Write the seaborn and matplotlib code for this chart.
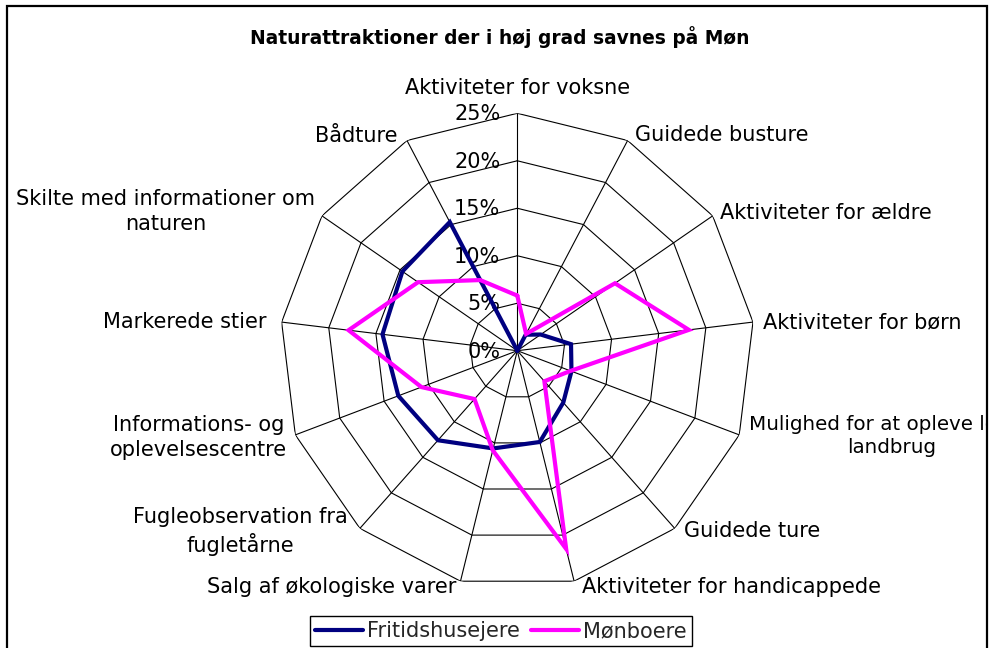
import numpy as np
import pandas as pd
import matplotlib
matplotlib.use("Agg")
import matplotlib.pyplot as plt
from matplotlib.lines import Line2D
from matplotlib.patches import Rectangle
import seaborn as sns

# ---- data -------------------------------------------------------------
categories = [
    "Aktiviteter for voksne",
    "Guidede busture",
    "Aktiviteter for ældre",
    "Aktiviteter for børn",
    "Mulighed for at opleve lokalt\nlandbrug",
    "Guidede ture",
    "Aktiviteter for handicappede",
    "Salg af økologiske varer",
    "Fugleobservation fra\nfugletårne",
    "Informations- og\noplevelsescentre",
    "Markerede stier",
    "Skilte med informationer om\nnaturen",
    "Bådture",
]
fritidshusejere = [0.0, 1.9, 3.0, 5.7, 6.1, 7.3, 9.9, 10.6, 12.6, 13.4, 14.3, 14.7, 15.3]
monboere = [5.8, 2.0, 12.5, 18.2, 6.0, 4.3, 21.5, 10.8, 6.8, 10.8, 17.9, 12.7, 8.4]
series_names = ["Fritidshusejere", "Mønboere"]
series_colors = ["#000080", "#FF00FF"]
r_ticks = [0, 5, 10, 15, 20, 25]
r_tick_labels = ["0%", "5%", "10%", "15%", "20%", "25%"]
title = "Naturattraktioner der i høj grad savnes på Møn"

# ---- style ------------------------------------------------------------
sns.set_theme(style="white")
plt.rcParams["font.family"] = ["DejaVu Sans"]
FS = 15
LW = 3.0

n = len(categories)
angles = np.arange(n) * 2 * np.pi / n
closed_angles = np.append(angles, 2 * np.pi)

rows = []
for name, vals in zip(series_names, [fritidshusejere, monboere]):
    for a, v in zip(closed_angles, list(vals) + [vals[0]]):
        rows.append({"angle": a, "value": v, "serie": name})
df = pd.DataFrame(rows)

W, H = 998, 648
fig = plt.figure(figsize=(W / 100, H / 100), dpi=100)
fig.patch.set_facecolor("white")

# polar axes: centre (517, 351) px, outer radius 237 px
cx, cy, R = 517.3, 350.7, 237.4
ax = fig.add_axes([(cx - R) / W, (H - cy - R) / H, 2 * R / W, 2 * R / H],
                  projection="polar")
ax.set_theta_zero_location("N")
ax.set_theta_direction(-1)
ax.set_ylim(0, r_ticks[-1])
ax.grid(False)
ax.spines["polar"].set_visible(False)
ax.set_xticks([])
ax.set_yticks([])
ax.patch.set_alpha(0)

# polygon rings and spokes
for t in r_ticks[1:]:
    ax.plot(closed_angles, [t] * (n + 1), color="black", lw=0.8, zorder=1)
for a in angles:
    ax.plot([a, a], [0, r_ticks[-1]], color="black", lw=0.8, zorder=1)

# series
sns.lineplot(data=df, x="angle", y="value", hue="serie",
             palette=series_colors, hue_order=series_names,
             linewidth=LW, estimator=None, sort=False, ax=ax,
             legend=False, zorder=3)
for line in ax.get_lines()[-2:]:
    line.set_solid_joinstyle("miter")
ax.set_xlabel("")
ax.set_ylabel("")

# radial tick labels along the top spoke
for t, lab in zip(r_ticks, r_tick_labels):
    ax.annotate(lab, xy=(0, t), xytext=(-17, -1), textcoords="offset pixels",
                ha="right", va="center", fontsize=FS, color="black",
                annotation_clip=False, zorder=2)

# category labels: offsets (px) from each outer vertex, and font size
label_offsets = [
    (0, 25, "center", FS),
    (7, 5, "left", FS),
    (7, 3, "left", FS),
    (10, 0, "left", FS),
    (10, -1, "left", 14.3),
    (9, -3, "left", FS),
    (8, -6, "left", FS),
    (-4, -6, "right", FS),
    (-12, -3, "right", FS),
    (-8, -3, "right", FS),
    (-15, 0, "right", FS),
    (-7, 4, "right", FS),
    (-9, 4, "right", FS),
]
for a, lab, (dx, dy, ha, fs) in zip(angles, categories, label_offsets):
    ax.annotate(lab, xy=(a, r_ticks[-1]), xytext=(dx, dy),
                textcoords="offset pixels", ha=ha, va="center",
                multialignment="center", linespacing=1.3, fontsize=fs,
                color="black", annotation_clip=False)

# title
fig.text(500 / W, 1 - 37 / H, title, ha="center", va="center",
         fontsize=13.4, fontweight="bold", color="black")

# legend
handles = [Line2D([], [], color=c, lw=LW) for c in series_colors]
leg = fig.legend(handles, series_names, loc="center",
                 bbox_to_anchor=(501 / W, 1 - 631 / H), ncol=2,
                 fontsize=FS, frameon=True, fancybox=False, framealpha=1,
                 edgecolor="black", borderpad=0.25, handlelength=2.3,
                 handletextpad=0.2, columnspacing=0.55)
leg.get_frame().set_linewidth(1.0)

# chart area border; anything right of it is blanked
fig.add_artist(Rectangle((987.5 / W, 0), 1, 1, transform=fig.transFigure,
                         facecolor="white", edgecolor="none", zorder=10))
fig.add_artist(Rectangle((7 / W, -0.05), (987 - 7) / W, 1 - 6 / H + 0.05,
                         transform=fig.transFigure, fill=False,
                         edgecolor="black", lw=1.6, zorder=11))

fig.savefig("out.png", dpi=100, facecolor="white")
